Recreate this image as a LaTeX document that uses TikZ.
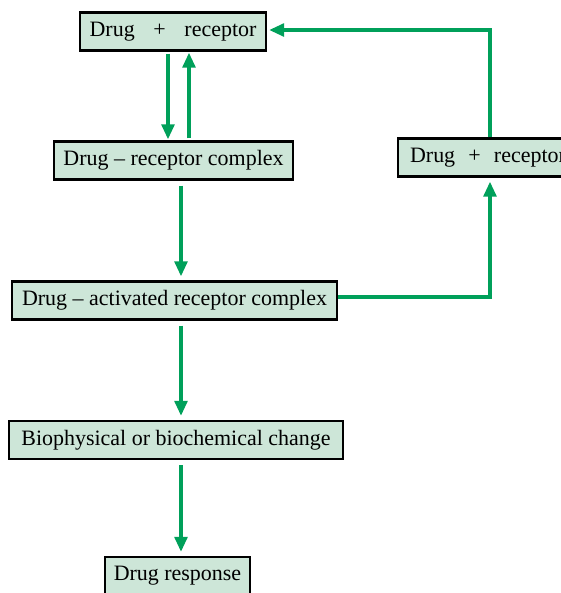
\documentclass[tikz,border=0pt]{standalone}
\usepackage{fontspec}
\setmainfont{Liberation Serif}
\usetikzlibrary{arrows.meta}
\definecolor{boxgreen}{RGB}{205,230,216}
\definecolor{flowgreen}{RGB}{0,160,90}
\tikzset{
    stagebox/.style={draw=black,line width=1.2pt,fill=boxgreen,minimum height=0.76cm,inner xsep=0pt,font=\fontsize{12.5}{14}\selectfont},
    flow/.style={flowgreen,line width=0.08cm,-{Triangle[length=0.3cm,width=0.25cm]},shorten <=0.1cm,shorten >=0.08cm}
}
\begin{document}
\begin{tikzpicture}[x=0.02cm,y=-0.02cm]
    \useasboundingbox (0,0) rectangle (561,593);
    \node[stagebox,minimum width=3.72cm] (pair) at (173,31.5) {Drug\hspace{0.85em}+\hspace{0.85em}receptor};
    \node[stagebox,minimum width=4.78cm] (cplx) at (173.5,160.5) {Drug -- receptor complex};
    \node[stagebox,minimum width=3.6cm] (free) at (488,157.5) {Drug\hspace{0.6em}+\hspace{0.6em}receptor};
    \node[stagebox,minimum width=6.5cm] (actv) at (174.5,300.5) {Drug -- activated receptor complex};
    \node[stagebox,minimum width=6.68cm] (chng) at (176,440) {Biophysical or biochemical change};
    \node[stagebox,minimum width=2.9cm] (resp) at (177.5,576) {Drug response};
    % binding and release
    \draw[flow,shorten <=0.04cm,shorten >=0.02cm] ([xshift=-0.1cm]pair.south) -- ([xshift=-0.1cm]pair.south |- cplx.north);
    \draw[flow,shorten <=0.04cm,shorten >=0.02cm] ([xshift=0.32cm]pair.south |- cplx.north) -- ([xshift=0.32cm]pair.south);
    \draw[flow] ([xshift=0.15cm]cplx.south) -- ([xshift=0.15cm]cplx.south |- actv.north);
    \draw[flow] ([xshift=0.13cm]actv.south) -- ([xshift=0.13cm]actv.south |- chng.north);
    \draw[flow] ([xshift=0.1cm]chng.south) -- ([xshift=0.1cm]chng.south |- resp.north);
    % dissociation loop
    \draw[flow,shorten <=0pt] ([yshift=0.08cm]actv.east) -| ([xshift=0.04cm]free.south);
    \draw[flow,shorten <=0pt,shorten >=0.04cm] ([xshift=0.04cm]free.north) |- ([yshift=0.03cm]pair.east);
\end{tikzpicture}
\end{document}
